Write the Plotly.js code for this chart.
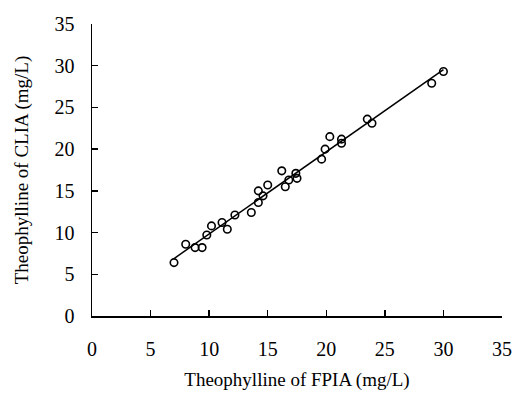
<!DOCTYPE html>
<html>
<head>
<meta charset="utf-8">
<script src="https://cdn.plot.ly/plotly-3.0.1.min.js"></script>
<style>html,body{margin:0;padding:0;background:#fff;}#chart{width:514px;height:394px;}</style>
</head>
<body>
<div id="chart"></div>
<script>
// FPIA (x) vs CLIA (y) theophylline, mg/L
const fpia = [7.0, 8.0, 8.8, 9.4, 9.8, 10.2, 11.1, 11.55, 12.2, 13.6, 14.2, 14.2, 14.6, 15.0, 16.2, 16.5, 16.8, 17.4, 17.5, 19.6, 19.9, 20.3, 21.3, 21.3, 23.5, 23.9, 29.0, 30.0];
const clia = [6.4, 8.6, 8.2, 8.2, 9.7, 10.8, 11.2, 10.4, 12.1, 12.4, 13.6, 15.0, 14.4, 15.7, 17.4, 15.5, 16.3, 17.1, 16.5, 18.8, 20.0, 21.5, 21.2, 20.7, 23.6, 23.1, 27.9, 29.3];
const tickVals = [0, 5, 10, 15, 20, 25, 30, 35];
const xTitle = 'Theophylline of FPIA (mg/L)';
const yTitle = 'Theophylline of CLIA (mg/L)';

// least-squares regression line through the data
const n = fpia.length;
const mx = fpia.reduce((a, b) => a + b, 0) / n;
const my = clia.reduce((a, b) => a + b, 0) / n;
let sxy = 0, sxx = 0;
for (let i = 0; i < n; i++) { sxy += (fpia[i] - mx) * (clia[i] - my); sxx += (fpia[i] - mx) ** 2; }
const slope = sxy / sxx, intercept = my - slope * mx;
const xMin = Math.min(...fpia), xMax = Math.max(...fpia);
const fitX = [xMin, xMax];
const fitY = fitX.map(v => slope * v + intercept);

const font = {family: '"Liberation Serif", "Times New Roman", serif', size: 20, color: '#000'};
const titleFont = {family: '"Liberation Serif", "Times New Roman", serif', size: 19, color: '#000'};
const axisCommon = {
  range: [0, 35], tickvals: tickVals, ticks: 'inside', ticklen: 6, tickwidth: 1.5, tickcolor: '#000',
  showline: true, linecolor: '#000', linewidth: 1.5, showgrid: false, zeroline: false,
  tickfont: font, automargin: false, fixedrange: true
};

Plotly.newPlot('chart', [
  {x: fitX, y: fitY, mode: 'lines', line: {color: '#000', width: 1.5}, hoverinfo: 'skip', showlegend: false},
  {x: fpia, y: clia, mode: 'markers', marker: {symbol: 'circle-open', size: 7.5, color: '#000', line: {width: 1.6, color: '#000'}}, showlegend: false}
], {
  width: 514, height: 394,
  margin: {l: 92, r: 12, t: 24, b: 78},
  paper_bgcolor: '#fff', plot_bgcolor: '#fff',
  font: font,
  xaxis: Object.assign({}, axisCommon, {title: {text: xTitle, font: titleFont, standoff: 14}, ticklabelstandoff: 14}),
  yaxis: Object.assign({}, axisCommon, {title: {text: yTitle, font: titleFont, standoff: 21}, ticklabelstandoff: 12}),
  showlegend: false
}, {staticPlot: true});
</script>
</body>
</html>
